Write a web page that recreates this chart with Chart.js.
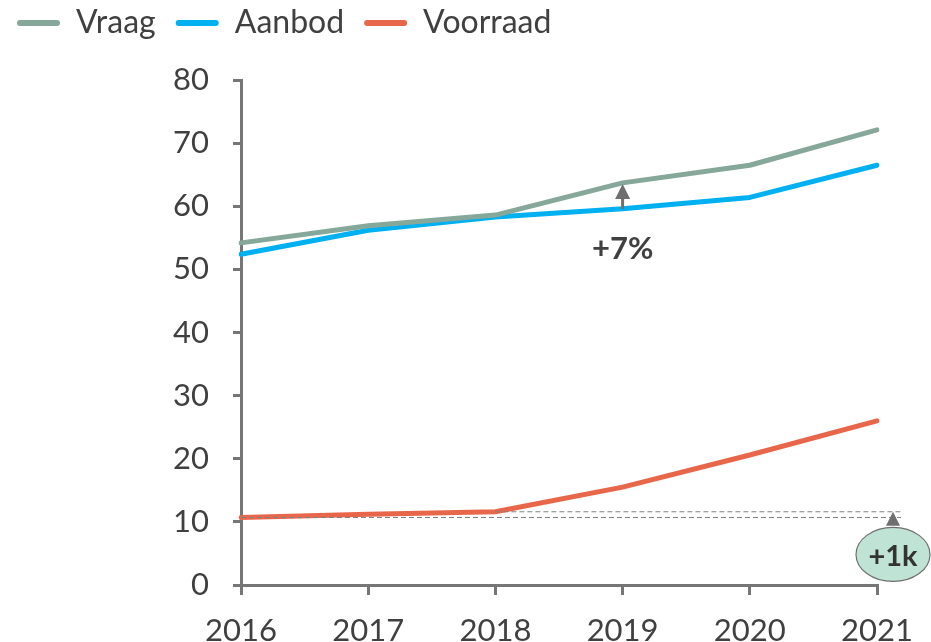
<!DOCTYPE html>
<html>
<head>
<meta charset="utf-8">
<script src="https://cdn.jsdelivr.net/npm/chart.js@4.4.1/dist/chart.umd.min.js"></script>
<style>
  html, body { margin: 0; padding: 0; background: #fff; }
  #wrap { width: 931px; height: 642px; position: relative; }
</style>
</head>
<body>
<div id="wrap"><canvas id="chart"></canvas></div>
<script>
const years = ['2016', '2017', '2018', '2019', '2020', '2021']
const vraag = [54.2, 56.9, 58.6, 63.7, 66.5, 72.1]
const aanbod = [52.4, 56.2, 58.3, 59.6, 61.4, 66.5]
const voorraad = [10.7, 11.2, 11.6, 15.5, 20.6, 26.0]
const yTicks = [0, 10, 20, 30, 40, 50, 60, 70, 80]

const gapLabel = '+7%'       // Vraag vs Aanbod in 2019
const gapYear = '2019'
const stockLabel = '+1k'     // Voorraad 2018 vs 2016
const stockFrom = '2016'
const stockTo = '2018'

const textColor = '#404040'
const axisColor = '#767676'
const fontFamily = 'Lato, "Open Sans", sans-serif'

// fixed legend height so the plot starts where the reference starts,
// then nudge the legend row up and left
const legendHeight = {
    id: 'legendHeight',
    beforeInit(chart) {
        const fit = chart.legend.fit
        chart.legend.fit = function () {
            fit.call(this)
            this.height = 80
        }
    },
    afterLayout(chart) {
        chart.legend.top = -13
        chart.legend.left = -3
    }
}

function arrowUp(ctx, x, yTip, size, color) {
    ctx.fillStyle = color
    ctx.beginPath()
    ctx.moveTo(x, yTip)
    ctx.lineTo(x - size / 2, yTip + size)
    ctx.lineTo(x + size / 2, yTip + size)
    ctx.closePath()
    ctx.fill()
}

const annotations = {
    id: 'annotations',
    afterDatasetsDraw(chart) {
        const ctx = chart.ctx
        const x = chart.scales.x
        const y = chart.scales.y

        // +7% arrow between Aanbod and Vraag
        const i = years.indexOf(gapYear)
        const ax = x.getPixelForValue(i)
        const yLow = y.getPixelForValue(aanbod[i])
        const yHigh = y.getPixelForValue(vraag[i])
        ctx.save()
        ctx.strokeStyle = '#6f6f6f'
        ctx.lineWidth = 3
        ctx.beginPath()
        ctx.moveTo(ax, yLow)
        ctx.lineTo(ax, yHigh + 12)
        ctx.stroke()
        arrowUp(ctx, ax, yHigh + 1, 15, '#6f6f6f')
        ctx.fillStyle = textColor
        ctx.font = 'bold 31px ' + fontFamily
        ctx.textAlign = 'center'
        ctx.textBaseline = 'middle'
        ctx.fillText(gapLabel, ax, yLow + 40)

        // dashed reference lines for Voorraad
        const iFrom = years.indexOf(stockFrom)
        const iTo = years.indexOf(stockTo)
        const endX = x.getPixelForValue(years.length - 1) + 24
        const yFrom = y.getPixelForValue(voorraad[iFrom])
        const yTo = y.getPixelForValue(voorraad[iTo])
        ctx.strokeStyle = '#808080'
        ctx.lineWidth = 1
        ctx.setLineDash([5, 3])
        ctx.beginPath()
        ctx.moveTo(x.getPixelForValue(iFrom), yFrom)
        ctx.lineTo(endX, yFrom)
        ctx.moveTo(x.getPixelForValue(iTo), yTo)
        ctx.lineTo(endX, yTo)
        ctx.stroke()
        ctx.setLineDash([])

        // +1k bubble with arrow
        const bx = x.getPixelForValue(years.length - 1) + 16
        arrowUp(ctx, bx, yTo, 14, '#6f6f6f')
        const by = yFrom + 37
        ctx.beginPath()
        ctx.ellipse(bx, by, 37, 27, 0, 0, Math.PI * 2)
        ctx.fillStyle = '#bfe3d5'
        ctx.fill()
        ctx.strokeStyle = '#6f6f6f'
        ctx.lineWidth = 1.2
        ctx.stroke()
        ctx.fillStyle = '#333333'
        ctx.font = 'bold 29px ' + fontFamily
        ctx.fillText(stockLabel, bx, by + 2)
        ctx.restore()
    }
}

function lineSet(label, data, color) {
    return {
        label: label,
        data: data,
        borderColor: color,
        backgroundColor: color,
        borderWidth: 5,
        borderCapStyle: 'round',
        borderJoinStyle: 'round',
        pointRadius: 0,
        tension: 0,
        fill: false
    }
}

new Chart(document.getElementById('chart'), {
    type: 'line',
    data: {
        labels: years,
        datasets: [
            lineSet('Vraag', vraag, '#86a89b'),
            lineSet('Aanbod', aanbod, '#00b0f0'),
            lineSet('Voorraad', voorraad, '#e8674a')
        ]
    },
    options: {
        responsive: true,
        maintainAspectRatio: false,
        animation: false,
        layout: { padding: { left: 0, right: 54, top: 0, bottom: 0 } },
        scales: {
            x: {
                offset: false,
                grid: { drawOnChartArea: false, drawTicks: true, tickLength: 10, color: axisColor, lineWidth: 3 },
                border: { display: true, color: axisColor, width: 3 },
                ticks: { color: textColor, font: { family: fontFamily, size: 31 }, padding: 17, maxRotation: 0 },
                afterFit(scale) { scale.height = 57 }
            },
            y: {
                min: 0,
                max: 80,
                afterBuildTicks(scale) { scale.ticks = yTicks.map(v => ({ value: v })) },
                grid: { drawOnChartArea: false, drawTicks: true, tickLength: 8, color: axisColor, lineWidth: 3 },
                border: { display: true, color: axisColor, width: 3 },
                ticks: { color: textColor, font: { family: fontFamily, size: 31 }, padding: 24 },
                afterFit(scale) { scale.width = 241 }
            }
        },
        plugins: {
            legend: {
                display: true,
                position: 'top',
                align: 'start',
                labels: {
                    color: textColor,
                    font: { family: fontFamily, size: 32 },
                    boxWidth: 43,
                    boxHeight: 6,
                    padding: 20,
                    generateLabels(chart) {
                        return chart.data.datasets.map((ds, i) => ({
                            text: ds.label,
                            fillStyle: ds.borderColor,
                            strokeStyle: ds.borderColor,
                            lineWidth: 0,
                            borderRadius: 3,
                            hidden: false,
                            datasetIndex: i,
                            fontColor: textColor
                        }))
                    }
                }
            },
            tooltip: { enabled: false }
        }
    },
    plugins: [legendHeight, annotations]
})
</script>
</body>
</html>
